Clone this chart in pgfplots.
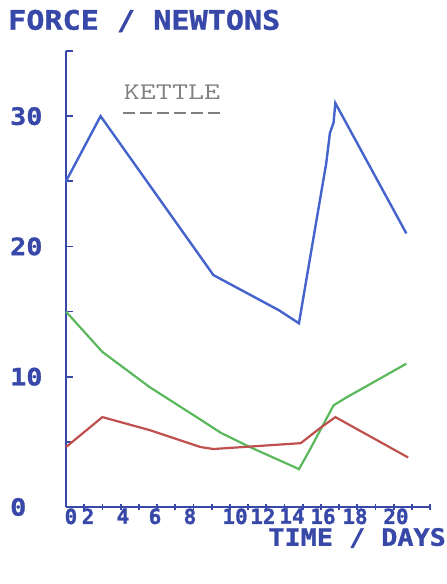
\documentclass[border=0pt]{standalone}
\usepackage{pgfplots}
\pgfplotsset{compat=1.18}
\usepackage{fontspec}
\newfontfamily\plotfont[FakeStretch=1.12, UprightFont={* Bold}, FakeBold=1.2]{DejaVu Sans Mono}
\newfontfamily\plotfontn[FakeStretch=1.0, UprightFont={* Bold}, FakeBold=1.2]{DejaVu Sans Mono}
\definecolor{axblue}{HTML}{3848A8}
\definecolor{lblue}{HTML}{4463CC}
\definecolor{lgreen}{HTML}{5CB85C}
\definecolor{lred}{HTML}{C0504D}
\begin{document}
\begin{tikzpicture}
\useasboundingbox (0,0) rectangle (447bp,584bp);
\begin{axis}[
  at={(66bp,77bp)}, anchor=south west,
  scale only axis, width=364bp, height=456bp,
  xmin=0, xmax=20, ymin=0, ymax=35,
  axis lines*=left,
  axis line style={axblue, line width=2.2bp},
  every tick/.style={axblue, line width=1.8bp},
  major tick length=6.5bp,
  xtick={1,...,20}, xticklabels={},
  xtick align=center,
  extra x ticks={0.27,1.21,3.13,4.89,6.81,9.29,10.82,12.42,14.12,15.88,18.13},
  extra x tick labels={0,2,4,6,8,10,12,14,16,18,20},
  extra x tick style={tick style={draw=none},
     xticklabel style={anchor=north, inner sep=0pt, yshift=2bp,
     font=\plotfontn\fontsize{21}{21}\selectfont}},
  ytick={0,5,...,35},
  yticklabels={0,,10,,20,,30,},
  ytick align=inside,
  yticklabel style={anchor=west, inner sep=0pt, xshift=-56bp,
     font=\plotfont\fontsize{24}{24}\selectfont},
  /pgf/number format/assume math mode=true,
  ticklabel style={text=axblue},
  clip=false,
]
\addplot[lblue, line width=2.4bp] coordinates {
(0,25.0) (1.9,30.0) (8.1,17.8) (11.7,15.1) (12.8,14.1) (13.2,17.4) (14.3,26.4) (14.5,28.7) (14.7,29.5) (14.8,31.0) (18.7,21.0)};
\addplot[lgreen, line width=2.2bp] coordinates {
(0,15) (2,11.9) (4.6,9.2) (7.4,6.7) (8.5,5.7) (10.1,4.6) (12.5,3.1) (12.8,2.9) (13.4,4.4) (14.7,7.8) (15.4,8.4) (18.7,11.0)};
\addplot[lred, line width=2.2bp] coordinates {
(0,4.6) (2,6.9) (4.6,5.9) (7.4,4.6) (8.1,4.45) (12.9,4.9) (14.0,6.1) (14.8,6.9) (18.8,3.8)};
\end{axis}
\node[anchor=west, inner sep=0pt, text=axblue] at (8bp,563bp)
  {\plotfont\fontsize{27}{27}\selectfont FORCE / NEWTONS};
\node[anchor=east, inner sep=0pt, text=axblue] at (446bp,46bp)
  {\plotfont\fontsize{24}{24}\selectfont TIME / DAYS};
\node[inner sep=0pt, text=gray] at (172bp,492bp)
  {\scalebox{1.3}[1]{\ttfamily\fontsize{24}{24}\selectfont KETTLE}};
\draw[gray, line width=2bp, dash pattern=on 12bp off 5bp] (123bp,471bp) -- (222bp,471bp);
\end{tikzpicture}
\end{document}
